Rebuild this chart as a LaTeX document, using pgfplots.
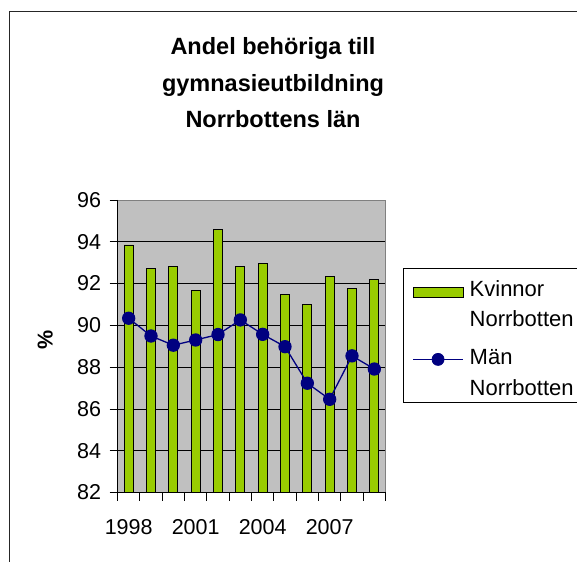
\documentclass[border=0pt]{standalone}
\usepackage{fontspec}
\setmainfont{Liberation Sans}
\usepackage{pgfplots}
\pgfplotsset{compat=1.18}
\definecolor{barg}{HTML}{99CC00}
\definecolor{bgc}{HTML}{C0C0C0}
\definecolor{navyc}{HTML}{000080}
\begin{document}
\begin{tikzpicture}[x=1pt,y=1pt]
\path[use as bounding box] (0,0) rectangle (577,561);
\begin{scope}
\clip (0,0) rectangle (577,561);
\draw[line width=1pt, black!85] (9,-20) -- (9,549) -- (600,549);
\end{scope}
\node[font=\fontsize{23.5}{28}\selectfont\bfseries, anchor=base] at (273,506) {Andel behöriga till};
\node[font=\fontsize{23.5}{28}\selectfont\bfseries, anchor=base] at (273,469.5) {gymnasieutbildning};
\node[font=\fontsize{23.5}{28}\selectfont\bfseries, anchor=base] at (273,433) {Norrbottens län};
\begin{axis}[
  at={(117.5pt,68.5pt)}, anchor=south west,
  scale only axis, width=268pt, height=292.5pt,
  xmin=0.5, xmax=12.5, ymin=82, ymax=96,
  axis background/.style={fill=bgc},
  axis line style={draw=none},
  ytick={82,84,...,96},
  xtick={0.5,1.5,...,12.5}, xticklabels={},
  extra x ticks={1,4,7,10},
  extra x tick labels={1998,2001,2004,2007},
  extra x tick style={major tick length=0pt, grid=none, xticklabel style={yshift=-23pt}},
  xtick pos=bottom, ytick pos=left,
  tick align=outside,
  major tick length=8pt,
  tick style={black, line width=0.8pt},
  ymajorgrids=true,
  major grid style={black, line width=0.6pt},
  tick label style={font=\fontsize{21.5}{25}\selectfont},
  yticklabel style={xshift=-5pt},
  /pgf/number format/assume math mode=true,
  ylabel={\textbf{\%}},
  ylabel style={font=\fontsize{21.5}{25}\selectfont, at={(axis description cs:-0.27,0.52)}, anchor=center},
  clip mode=individual,
  legend cell align=left,
  legend style={at={(axis description cs:1.0653,0.7675)}, anchor=north west,
    draw=black, line width=0.8pt, fill=white,
    font=\fontsize{22}{28.7}\selectfont,
    inner xsep=9pt, inner ysep=3pt, row sep=0pt,
    cells={anchor=base west}},
  legend entries={\hspace*{4pt}\rule{0pt}{23.5pt}Kvinnor, \hspace*{4pt}\rule{0pt}{24pt}Norrbotten, \hspace*{4pt}\rule{0pt}{32.5pt}Män, \hspace*{4pt}\rule[-9pt]{0pt}{34.5pt}Norrbotten},
]
\addlegendimage{legend image code/.code={\draw[fill=barg, draw=black, line width=0.8pt] (0pt,0pt) rectangle (50pt,10pt);}}
\addlegendimage{empty legend}
\addlegendimage{legend image code/.code={\draw[navyc, line width=1.3pt] (0pt,5pt) -- (50pt,5pt); \fill[navyc] (25pt,5pt) circle (6pt);}}
\addlegendimage{empty legend}
\addplot[forget plot, ybar, bar width=9pt, bar shift=0pt, fill=barg, draw=black, line width=0.8pt]
coordinates {(1,93.85) (2,92.71) (3,92.81) (4,91.69) (5,94.61) (6,92.81) (7,92.97) (8,91.50) (9,90.98) (10,92.36) (11,91.77) (12,92.20)};
\addplot[forget plot, navyc, line width=1.3pt, mark=*, mark size=6pt, mark options={fill=navyc, draw=navyc}]
coordinates {(1,90.34) (2,89.49) (3,89.05) (4,89.30) (5,89.56) (6,90.26) (7,89.57) (8,88.98) (9,87.23) (10,86.46) (11,88.54) (12,87.91)};
\draw[gray, line width=0.8pt] (rel axis cs:0,1) -- (rel axis cs:1,1) -- (rel axis cs:1,0);
\draw[black, line width=0.8pt] (rel axis cs:0,1) -- (rel axis cs:0,0) -- (rel axis cs:1,0);
\end{axis}
\end{tikzpicture}
\end{document}
